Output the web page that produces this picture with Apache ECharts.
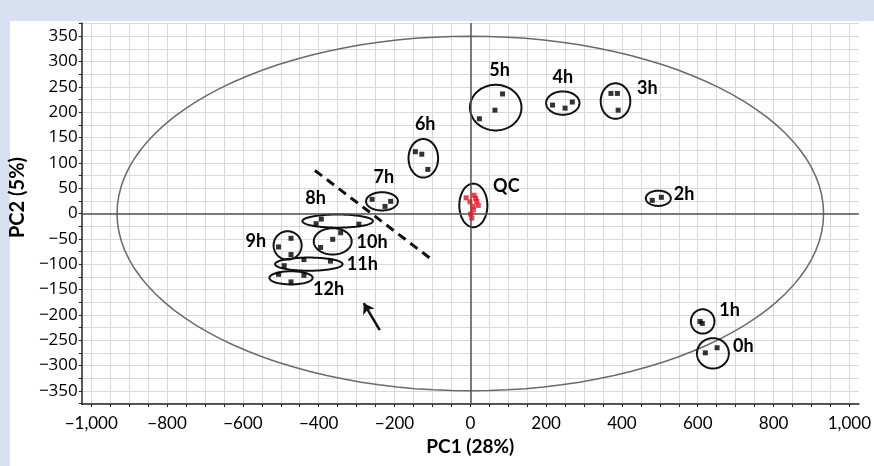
<!DOCTYPE html>
<html>
<head>
<meta charset="utf-8">
<script src="https://cdn.jsdelivr.net/npm/echarts@6/dist/echarts.min.js"></script>
<style>
  html, body { margin: 0; padding: 0; background: #ffffff; }
  #chart { width: 874px; height: 466px; }
</style>
</head>
<body>
<div id="chart"></div>
<script>
// PCA score plot: sampling time points plus pooled QC injections

const timeGroups = ['0h', '1h', '2h', '3h', '4h', '5h', '6h', '7h', '8h', '9h', '10h', '11h', '12h'];

// scores of the replicate samples in each group
const groupPC1 = [
  [620, 651], [606, 612], [480, 504], [371, 388, 390], [217, 250, 269],
  [85, 65, 24], [-145, -128, -112], [-259, -225, -210], [-407, -393, -294],
  [-506, -473, -473], [-395, -363, -342], [-491, -439, -369], [-506, -473, -439]
];
const groupPC2 = [
  [-275, -265], [-213, -217], [26, 32], [237, 237, 204], [214, 208, 220],
  [236, 204, 187], [122, 117, 87], [28, 14, 24], [-20, -11, -21],
  [-66, -49, -81], [-67, -51, -38], [-103, -91, -94], [-120, -135, -122]
];

// circled region around each group: centre and half-widths in score units
const ringPC1 = [640, 613, 496, 383, 244, 67, -124, -233, -350, -482, -363, -426, -473];
const ringPC2 = [-276, -213, 30, 222, 218, 209, 109, 24, -15, -63, -55, -100, -127];
const ringSpreadPC1 = [42, 31, 33, 39, 44, 68, 39, 42, 93, 37, 50, 89, 57];
const ringSpreadPC2 = [30, 24, 15, 35, 23, 45, 38, 18, 13, 28, 26, 13, 13];

// where each group name is written
const labelPC1 = [720, 684, 564, 467, 244, 77, -119, -228, -408, -566, -259, -285, -374];
const labelPC2 = [-262, -191, 38, 247, 269, 283, 176, 72, 30, -55, -57, -100, -149];

// pooled QC injections
const qcPC1 = [-11, 10, -1, 17, 21, 7, 8, 4, 1, 14];
const qcPC2 = [31, 36, 23, 24, 16, 14, 7, -9, -1, 30];
const qcRing = [8, 16, 37, 43];
const qcLabel = [95, 54];

// Hotelling T2 (95 %) limit: half-axes along PC1 and PC2
const t2Limit = [932, 350];

// separating line between early and late groups, and the arrow pointing at it
const splitPC1 = [-410, -105];
const splitPC2 = [85, -89];
const arrowPC1 = [-239, -281];
const arrowPC2 = [-230, -177];

// axis ticks
const xTickValues = [];
for (let v = -1000; v <= 1000; v += 50) xTickValues.push(v);
const xLabelValues = [-1000, -800, -600, -400, -200, 0, 200, 400, 600, 800, 1000];
const yTickValues = [];
for (let v = -375; v <= 375; v += 25) yTickValues.push(v);
const yLabelValues = [-350, -300, -250, -200, -150, -100, -50, 0, 50, 100, 150, 200, 250, 300, 350];

const FONT = 'Lato, "Open Sans", sans-serif';
const TICK_FONT = '"Open Sans", Lato, sans-serif';

function fmt(v) {
  const s = Math.abs(v).toLocaleString('en-US');
  return v < 0 ? '\u2212' + s : s;
}

const pointData = [];
timeGroups.forEach((g, i) => {
  groupPC1[i].forEach((x, j) => pointData.push({ name: g, value: [x, groupPC2[i][j]] }));
});
const qcData = qcPC1.map((x, i) => [x, qcPC2[i]]);

const ringData = timeGroups.map((g, i) => [ringPC1[i], ringPC2[i], ringSpreadPC1[i], ringSpreadPC2[i]]);
ringData.push(qcRing);

const labelData = timeGroups.map((g, i) => ({ name: g, value: [labelPC1[i], labelPC2[i]] }));
labelData.push({ name: 'QC', value: qcLabel });

function ellipsePoints(api, cx, cy, rx, ry) {
  const pts = [];
  const n = 120;
  for (let k = 0; k < n; k++) {
    const t = (k / n) * Math.PI * 2;
    pts.push(api.coord([cx + rx * Math.cos(t), cy + ry * Math.sin(t)]));
  }
  return pts;
}

const chart = echarts.init(document.getElementById('chart'), null, { renderer: 'canvas' });

chart.setOption({
  backgroundColor: '#ffffff',
  animation: false,
  graphic: [
    { type: 'rect', left: 0, top: 0, shape: { width: 874, height: 21 }, style: { fill: '#d9e0f2' }, z: -10 },
    { type: 'rect', left: 0, top: 0, shape: { width: 10, height: 466 }, style: { fill: '#d9e0f2' }, z: -10 }
  ],
  grid: { left: 80, right: 7, top: 23, bottom: 62, containLabel: false },
  xAxis: {
    type: 'value',
    min: -1025,
    max: 1025,
    name: 'PC1 (28%)',
    nameLocation: 'middle',
    nameGap: 33,
    nameTextStyle: { fontFamily: FONT, fontSize: 19, fontWeight: 'bold', color: '#000' },
    axisLine: { show: true, onZero: false, lineStyle: { color: '#222', width: 1.5 } },
    axisTick: { show: true, length: 3, customValues: xTickValues, lineStyle: { color: '#222' } },
    axisLabel: {
      customValues: xLabelValues, formatter: fmt, margin: 11,
      fontFamily: FONT, fontSize: 17, color: '#000'
    },
    splitLine: { show: true, lineStyle: { color: '#d9d9d9', width: 1 } }
  },
  yAxis: {
    type: 'value',
    min: -376,
    max: 376,
    name: 'PC2 (5%)',
    nameLocation: 'middle',
    nameGap: 43,
    nameTextStyle: { fontFamily: FONT, fontSize: 20, fontWeight: 'bold', color: '#000', padding: [0, 0, 0, 32] },
    axisLine: { show: true, onZero: false, lineStyle: { color: '#222', width: 1.5 } },
    axisTick: { show: true, length: 3, customValues: yTickValues, lineStyle: { color: '#222' } },
    axisLabel: {
      customValues: yLabelValues, formatter: fmt, margin: 4,
      fontFamily: TICK_FONT, fontSize: 17, color: '#000'
    },
    splitLine: { show: true, lineStyle: { color: '#d9d9d9', width: 1 } }
  },
  series: [
    {
      // T2 limit ellipse and zero lines
      type: 'custom',
      silent: true,
      z: 2,
      data: [[0, 0, t2Limit[0], t2Limit[1]]],
      renderItem: (params, api) => ({
        type: 'polygon',
        shape: { points: ellipsePoints(api, api.value(0), api.value(1), api.value(2), api.value(3)) },
        style: { fill: 'none', stroke: '#6a6a6a', lineWidth: 1.5 }
      }),
      markLine: {
        silent: true,
        symbol: 'none',
        label: { show: false },
        lineStyle: { color: '#555', width: 1.5, type: 'solid' },
        data: [{ xAxis: 0 }, { yAxis: 0 }]
      }
    },
    {
      // rings around groups
      type: 'custom',
      silent: true,
      z: 3,
      data: ringData,
      renderItem: (params, api) => ({
        type: 'polygon',
        shape: { points: ellipsePoints(api, api.value(0), api.value(1), api.value(2), api.value(3)) },
        style: { fill: 'none', stroke: '#111', lineWidth: 2 }
      })
    },
    {
      name: 'Samples',
      type: 'scatter',
      symbol: 'rect',
      symbolSize: 5,
      z: 5,
      itemStyle: { color: '#000' },
      data: pointData
    },
    {
      name: 'QC',
      type: 'scatter',
      symbol: 'rect',
      symbolSize: 5,
      z: 5,
      itemStyle: { color: '#e8141b' },
      data: qcData
    },
    {
      // separating dashed line
      type: 'line',
      silent: true,
      symbol: 'none',
      z: 4,
      lineStyle: { color: '#111', width: 3, type: [9, 6] },
      data: splitPC1.map((x, i) => [x, splitPC2[i]]),
      markLine: {
        silent: true,
        symbol: ['none', 'arrow'],
        symbolSize: 10,
        label: { show: false },
        lineStyle: { color: '#111', width: 2.5, type: 'solid' },
        data: [[{ coord: [arrowPC1[0], arrowPC2[0]] }, { coord: [arrowPC1[1], arrowPC2[1]] }]]
      }
    },
    {
      // group names
      type: 'custom',
      silent: true,
      z: 6,
      data: labelData,
      renderItem: (params, api) => {
        const p = api.coord([api.value(0), api.value(1)]);
        return {
          type: 'text',
          x: p[0], y: p[1],
          style: {
            text: labelData[params.dataIndex].name,
            fontFamily: FONT, fontSize: 18, fontWeight: 'bold',
            fill: '#000', align: 'center', verticalAlign: 'middle'
          }
        };
      }
    }
  ]
});
</script>
</body>
</html>
